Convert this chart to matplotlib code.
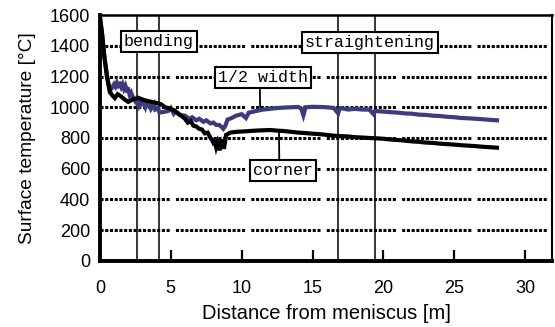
import matplotlib
matplotlib.use("Agg")
import matplotlib.pyplot as plt

# ---- data ----
half_x = [0.0, 0.15, 0.3, 0.5, 0.7, 0.85, 1.0, 1.1, 1.2, 1.3, 1.4, 1.5, 1.6, 1.7, 1.8, 1.9,
          2.0, 2.1, 2.2, 2.4, 2.6, 2.7, 2.8, 3.0, 3.2, 3.3, 3.5, 3.6, 3.8, 3.9, 4.1, 4.2,
          4.5, 4.8, 5.0, 5.2, 5.3, 5.6, 6.0, 6.3, 6.5, 6.8, 7.0, 7.3, 7.5, 7.8, 8.0, 8.2,
          8.4, 8.6, 8.7, 8.85, 9.0, 9.3, 9.6, 10.0, 10.3, 10.5, 11.0, 11.5, 12.0, 12.5,
          13.0, 13.5, 14.0, 14.2, 14.35, 14.5, 15.0, 15.5, 16.0, 16.5, 16.8, 16.9, 17.0,
          17.5, 18.0, 18.5, 19.0, 19.3, 19.4, 19.5, 20.0, 20.5, 21.0, 21.5, 22.0, 22.5,
          23.0, 23.5, 24.0, 24.5, 25.0, 25.5, 26.0, 26.5, 27.0, 27.5, 28.0]
half_y = [1590, 1480, 1340, 1200, 1110, 1125, 1150, 1135, 1160, 1140, 1150, 1130, 1150, 1120, 1140, 1110,
          1115, 1080, 1095, 1050, 1025, 1060, 1010, 1040, 1000, 1030, 1015, 990, 1020, 985, 995, 965,
          970, 975, 995, 960, 975, 950, 945, 925, 935, 915, 925, 905, 915, 895, 900, 885,
          885, 870, 860, 880, 920, 930, 945, 955, 930, 965, 975, 985, 990, 995,
          998, 1000, 1002, 990, 948, 1000, 1003, 1002, 1000, 995, 960, 990, 995,
          985, 990, 985, 985, 955, 975, 975, 972, 968, 965, 960, 958, 952,
          950, 945, 943, 938, 935, 930, 928, 925, 922, 918, 915]

corner_x = [0.0, 0.15, 0.3, 0.5, 0.7, 0.9, 1.05, 1.25, 1.5, 1.75, 2.0, 2.3, 2.7, 3.0, 3.4,
            3.9, 4.3, 4.6, 5.0, 5.3, 5.6, 6.0, 6.2, 6.4, 6.6, 6.8, 7.0, 7.2, 7.4, 7.6, 7.8,
            7.9, 8.0, 8.1, 8.2, 8.3, 8.45, 8.6, 8.75, 8.9, 9.2, 9.6, 10.0, 10.5, 11.0, 11.5,
            12.0, 12.5, 13.0, 13.5, 14.0, 14.5, 15.0, 15.5, 16.0, 16.5, 17.0, 17.5, 18.0,
            18.5, 19.0, 19.5, 20.0, 20.5, 21.0, 21.5, 22.0, 22.5, 23.0, 23.5, 24.0, 24.5,
            25.0, 25.5, 26.0, 26.5, 27.0, 27.5, 28.0]
corner_y = [1590, 1480, 1340, 1200, 1100, 1075, 1060, 1085, 1070, 1050, 1035, 1050, 1062, 1050, 1040,
            1030, 1020, 1000, 990, 975, 955, 925, 900, 910, 880, 875, 860, 855, 830, 835, 800,
            790, 770, 780, 740, 770, 720, 790, 730, 820, 835, 840, 842, 845, 848, 850,
            852, 848, 845, 840, 835, 832, 828, 825, 820, 815, 812, 810, 805,
            803, 800, 798, 795, 790, 787, 783, 778, 775, 770, 768, 763, 760,
            757, 753, 750, 747, 743, 740, 737]

bend_lines = [2.6, 4.2]
straight_lines = [16.8, 19.4]
y_ticks = [0, 200, 400, 600, 800, 1000, 1200, 1400, 1600]
x_ticks = [0, 5, 10, 15, 20, 25, 30]
grid_levels = [200, 400, 600, 800, 1000, 1200, 1400]

plt.rcParams['lines.scale_dashes'] = False
fig = plt.figure(figsize=(5.55, 3.27), dpi=100)
ax = fig.add_axes([0.180, 0.202, 0.815, 0.752])

ax.set_xlim(0, 31.9)
ax.set_ylim(0, 1600)

grid_dash = (0, [2.2, 1.2] * 14 + [2.2, 4.5])
for g in grid_levels:
    ax.axhline(g, color='black', lw=2.2, linestyle=grid_dash, zorder=1)

for v in bend_lines + straight_lines:
    ax.axvline(v, color='black', lw=1.1, zorder=2)

ax.plot(half_x, half_y, color='#3b3b7d', lw=3.0, zorder=3, solid_joinstyle='miter')
ax.plot(corner_x, corner_y, color='black', lw=3.0, zorder=4, solid_joinstyle='miter')

box = dict(boxstyle='square,pad=0.18', fc='white', ec='black', lw=1.5)
mono = 'Liberation Mono'
ax.text(4.16, 1430, 'bending', family=mono, fontsize=12, ha='center', va='center',
        bbox=box, zorder=6)
ax.text(19.05, 1424, 'straightening', family=mono, fontsize=12, ha='center', va='center',
        bbox=box, zorder=6)
ax.annotate('1/2 width', xy=(11.3, 1000), xytext=(11.5, 1193), family=mono, fontsize=12,
            ha='center', va='center', bbox=box, zorder=6,
            arrowprops=dict(arrowstyle='-', color='black', lw=1.3, shrinkA=0, shrinkB=0,
                            relpos=(0.465, 0.0)))
ax.annotate('corner', xy=(12.63, 845), xytext=(12.88, 590), family=mono, fontsize=12,
            ha='center', va='center', bbox=box, zorder=6,
            arrowprops=dict(arrowstyle='-', color='black', lw=1.3, shrinkA=0, shrinkB=0,
                            relpos=(0.446, 1.0)))

ax.set_xticks(x_ticks)
ax.set_yticks(y_ticks)
ax.tick_params(axis='x', direction='in', length=8, width=1.6, pad=14, labelsize=13)
ax.tick_params(axis='y', direction='in', length=0, pad=7, labelsize=13)
for lab in ax.get_xticklabels() + ax.get_yticklabels():
    lab.set_family('Liberation Sans')

ax.spines['left'].set_linewidth(2.8)
ax.spines['bottom'].set_linewidth(2.8)
ax.spines['top'].set_linewidth(1.8)
ax.spines['right'].set_linewidth(1.5)

ax.set_xlabel('Distance from meniscus [m]', family='Liberation Sans', fontsize=14.5, labelpad=5)
ax.set_ylabel('Surface temperature [°C]', family='Liberation Sans', fontsize=13.8, labelpad=10)

fig.savefig('out.png', dpi=100)
